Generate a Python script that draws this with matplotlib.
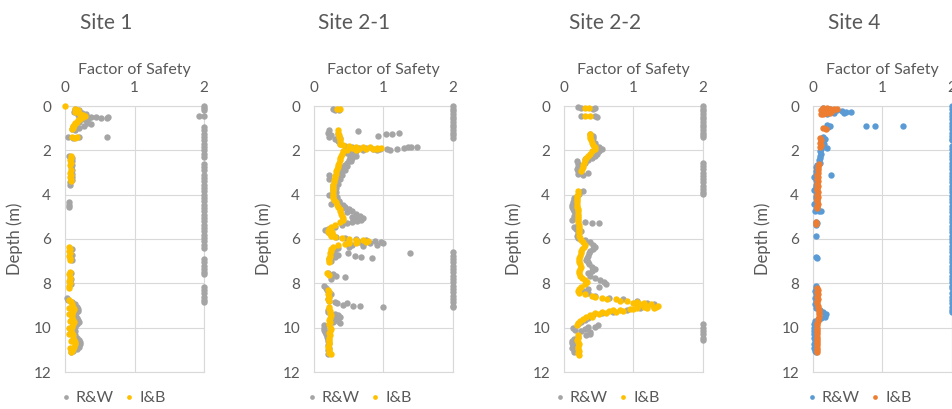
import matplotlib
matplotlib.use('Agg')
import matplotlib.pyplot as plt
from matplotlib.lines import Line2D

plt.rcParams['font.family'] = ['Lato', 'DejaVu Sans']

# ---------------- data ----------------
sites = ['Site 1', 'Site 2-1', 'Site 2-2', 'Site 4']
series_names = ['R&W', 'I&B']
x_ticks = [0, 1, 2]
y_ticks = [0, 2, 4, 6, 8, 10, 12]
x_label = 'Factor of Safety'
y_label = 'Depth (m)'
FOS_CAP = 2.0   # plotted value for capped factor of safety

# (depth m, factor of safety)
site1_rw = [(0.15,0.15),(0.2,0.2),(0.25,0.13),(0.3,0.25),(0.35,0.3),(0.4,0.18),(0.45,0.3),(0.48,0.38),
            (0.5,0.45),(0.52,0.52),(0.55,0.6),(0.5,0.62),(0.6,0.25),(0.6,0.33),(0.65,0.3),(0.7,0.2),
            (0.75,0.32),(0.8,0.38),(0.85,0.15),(0.9,0.28),(0.95,0.12),(1.0,0.2),(1.05,0.1),(1.1,0.15),
            (1.4,0.05),(1.4,0.2),(1.45,0.12),(1.4,0.6),(0.45,1.93),
            (2.25,0.06),(2.35,0.1),(2.5,0.1),(2.65,0.1),(2.75,0.08),(2.9,0.1),(3.05,0.1),(3.2,0.1),
            (3.35,0.1),(3.45,0.07),(3.55,0.07),(4.35,0.06),(4.45,0.06),(4.55,0.06),
            (6.45,0.1),(6.7,0.1),(6.95,0.1),(7.55,0.09),(7.8,0.09),(8.05,0.09),
            (8.65,0.03),(8.75,0.05),(8.85,0.1),(8.95,0.15),(9.05,0.17),(9.15,0.19),(9.25,0.18),(9.35,0.16),
            (9.45,0.15),(9.55,0.17),(9.65,0.19),(9.75,0.2),(9.85,0.17),(9.95,0.14),(10.05,0.13),(10.15,0.14),
            (10.25,0.13),(10.35,0.15),(10.45,0.17),(10.55,0.2),(10.65,0.22),(10.75,0.22),(10.85,0.2),
            (10.95,0.17),(11.05,0.12),(11.1,0.08)]
site1_rw_capped_depth = [0.0,0.1,0.2,0.45,0.95,1.1,1.25,1.4,1.55,1.7,1.85,2.0,2.15,2.3,2.6,2.75,2.9,
                         3.1,3.25,3.4,3.55,3.7,3.85,4.0,4.15,4.3,4.45,4.6,4.75,4.9,5.05,5.2,5.35,5.5,
                         5.65,5.8,5.95,6.1,6.25,6.4,6.9,7.05,7.2,7.35,7.5,7.6,8.15,8.3,8.45,8.6,8.75,8.85]
site1_ib = [(0.0,0.0),(0.15,0.15),(0.2,0.18),(0.25,0.15),(0.3,0.2),(0.35,0.22),(0.4,0.26),(0.45,0.29),
            (0.5,0.26),(0.55,0.21),(0.6,0.22),(0.65,0.18),(0.7,0.17),(0.75,0.15),(0.8,0.14),(0.85,0.13),
            (0.9,0.12),(0.95,0.12),(1.0,0.11),(1.05,0.1),(1.4,0.1),(1.45,0.14),(1.4,0.17),
            (2.25,0.08),(2.35,0.08),(2.45,0.07),(2.55,0.08),(2.65,0.07),(2.9,0.08),(3.0,0.07),(3.1,0.08),
            (3.2,0.07),(3.3,0.08),(3.4,0.08),
            (6.35,0.06),(6.45,0.07),(6.55,0.06),(6.65,0.07),(6.75,0.06),(6.85,0.07),(6.95,0.07),
            (7.5,0.07),(7.6,0.06),(7.7,0.07),(7.8,0.07),(7.9,0.06),(8.0,0.07),(8.1,0.06),(8.2,0.06),
            (8.75,0.06),(8.85,0.08),(8.95,0.1),(9.05,0.12),(9.15,0.13),(9.25,0.12),(9.35,0.1),(9.45,0.1),
            (9.55,0.1),(9.65,0.12),(9.75,0.13),(9.85,0.11),(9.95,0.1),(10.05,0.09),(10.15,0.09),(10.25,0.1),
            (10.35,0.11),(10.45,0.12),(10.55,0.13),(10.65,0.14),(10.75,0.15),(10.85,0.13),(10.95,0.11),
            (11.05,0.1),(11.12,0.08),(9.1,0.06),(9.4,0.06),(9.7,0.07),(10.0,0.06),(10.3,0.06),(10.6,0.08),
            (10.9,0.07)]

site21_rw = [(0.12,0.28),(0.2,0.3),(0.2,0.36),
             (1.1,0.22),(1.2,0.2),(1.3,0.24),(1.4,0.22),(1.5,0.3),(1.25,0.35),(1.45,0.38),(1.6,0.35),(1.7,0.38),
             (1.11,0.63),(1.35,0.92),(1.28,1.03),(1.27,1.12),(1.22,1.23),
             (1.8,0.45),(1.85,0.55),(1.88,0.65),(1.9,0.75),(1.92,0.85),(1.93,0.95),(1.95,1.05),(1.98,1.1),
             (1.93,1.2),(1.88,1.3),(1.86,1.4),(1.84,1.48),(1.86,1.35),(2.0,0.7),(1.98,0.9),(2.02,0.6),
             (2.05,0.5),(2.15,0.55),(2.25,0.6),(2.35,0.55),(2.45,0.5),(2.55,0.48),(2.65,0.45),(2.75,0.42),
             (2.85,0.42),(2.95,0.4),(3.05,0.38),(3.15,0.36),(3.25,0.33),(3.35,0.3),(3.45,0.3),(3.3,0.22),
             (2.1,0.48),(2.3,0.52),(2.5,0.53),(2.7,0.48),(2.9,0.45),(3.1,0.41),(3.3,0.37),(3.5,0.34),
             (3.7,0.32),(3.9,0.32),(4.1,0.33),(4.3,0.36),(3.1,0.22),(4.0,0.22),(4.4,0.25),
             (3.55,0.28),(3.65,0.28),(3.75,0.27),(3.85,0.28),(3.95,0.27),(4.05,0.28),(4.15,0.3),(4.25,0.32),
             (4.35,0.36),(4.45,0.42),(4.55,0.45),(4.65,0.5),(4.75,0.55),(4.85,0.6),(4.95,0.66),(5.05,0.7),
             (5.15,0.68),(5.25,0.55),(5.35,0.4),(5.45,0.3),(5.55,0.2),(5.6,0.16),(5.7,0.2),(5.8,0.25),
             (4.6,0.4),(4.8,0.48),(5.0,0.55),(5.1,0.6),(5.2,0.62),(5.3,0.47),
             (5.9,0.32),(5.95,0.45),(6.0,0.6),(6.05,0.75),(6.1,0.88),(6.15,0.97),(6.2,1.0),(6.25,0.9),
             (6.3,0.7),(6.35,0.5),(6.4,0.35),(6.5,0.3),(6.6,0.28),(6.7,0.25),(6.8,0.3),(6.9,0.22),(7.0,0.25),
             (6.12,0.65),(6.18,0.8),(6.22,0.7),(6.28,0.55),
             (6.72,0.34),(6.65,0.49),(6.77,0.59),(6.8,0.68),(6.84,0.84),(6.62,1.38),
             (7.55,0.2),(7.6,0.28),(7.65,0.32),(7.72,0.44),(7.8,0.25),
             (8.1,0.15),(8.2,0.17),(8.3,0.18),(8.4,0.22),(8.5,0.25),(8.6,0.22),(8.7,0.2),(8.8,0.22),
             (8.85,0.3),(8.9,0.33),(8.97,0.42),(8.9,0.47),(9.0,0.56),(9.0,0.66),(9.09,1.0),(9.2,0.2),
             (9.3,0.2),(9.4,0.3),(9.5,0.38),(9.45,0.35),(9.6,0.3),(9.7,0.35),(9.8,0.38),(9.75,0.28),
             (9.9,0.15),(10.0,0.14),(10.1,0.15),(10.2,0.16),(10.3,0.17),(10.4,0.18),(10.5,0.2),(10.6,0.2),
             (10.7,0.22),(10.8,0.2),(10.9,0.22),(11.0,0.2),(11.1,0.22),(11.2,0.2)]
site21_rw_capped_depth = [0.0,0.12,0.24,0.36,0.48,0.6,0.72,0.84,0.96,1.08,1.2,1.32,1.44,
                          6.6,6.75,6.9,7.05,7.2,7.35,7.5,7.65,7.8,7.95,8.1,8.25,8.4,8.55,8.7,8.85,9.0,9.05]
site21_ib = [(0.15,0.33),(0.15,0.37),
             (1.1,0.34),(1.2,0.35),(1.3,0.36),(1.4,0.36),(1.5,0.37),(1.6,0.37),(1.7,0.38),(1.75,0.42),
             (1.8,0.5),(1.83,0.6),(1.85,0.7),(1.87,0.8),(1.88,0.9),(1.9,0.97),(1.93,0.9),(1.95,0.75),
             (1.97,0.6),(2.0,0.48),(1.9,0.55),(1.92,0.65),(1.95,0.85),
             (2.05,0.42),(2.15,0.4),(2.25,0.39),(2.35,0.38),(2.45,0.37),(2.55,0.36),(2.65,0.35),(2.75,0.34),
             (2.85,0.33),(2.95,0.32),(3.05,0.31),(3.15,0.3),(3.25,0.3),(3.35,0.29),(3.45,0.29),(3.55,0.28),
             (3.65,0.27),(3.75,0.27),(3.85,0.27),(3.95,0.27),(4.05,0.27),(4.15,0.28),(4.25,0.29),(4.35,0.31),
             (4.45,0.33),(4.55,0.35),(4.65,0.37),(4.75,0.38),(4.85,0.39),(4.95,0.4),(5.05,0.42),(5.15,0.42),
             (5.25,0.38),(5.35,0.3),(5.45,0.24),(5.55,0.21),(5.65,0.2),(5.75,0.21),(5.85,0.24),(5.92,0.3),
             (5.97,0.4),(6.0,0.5),(6.03,0.6),(6.06,0.7),(6.1,0.78),(6.15,0.75),(6.18,0.6),(6.22,0.45),
             (6.27,0.35),(6.35,0.28),(6.45,0.25),(6.55,0.24),(6.65,0.23),(6.75,0.23),(6.85,0.22),(6.95,0.22),
             (6.08,0.5),(6.12,0.62),(6.2,0.5),(5.6,0.25),(5.7,0.26),(5.8,0.28),
             (7.02,0.22),(7.55,0.18),(7.62,0.22),
             (8.3,0.2),(8.4,0.21),(8.5,0.2),(8.6,0.21),(8.7,0.2),(8.8,0.21),(9.05,0.22),(9.15,0.22),
             (9.25,0.23),(9.35,0.23),(9.45,0.24),(9.55,0.23),(9.65,0.22),(9.75,0.23),(9.85,0.22),(9.95,0.23),
             (10.05,0.24),(10.15,0.23),(10.25,0.22),(10.35,0.23),(10.45,0.22),(10.55,0.21),(10.65,0.22),
             (10.75,0.21),(10.85,0.2),(10.95,0.21),(11.05,0.22),(11.15,0.21),(11.2,0.24)]

site22_rw = [(0.05,0.2),(0.1,0.25),(0.1,0.45),(0.15,0.42),(0.45,0.25),(0.45,0.45),(0.5,0.48),
             (1.25,0.38),(1.35,0.42),(1.45,0.42),(1.55,0.4),(1.65,0.44),(1.75,0.45),
             (1.85,0.5),(1.95,0.54),(2.05,0.5),(2.15,0.48),(2.25,0.45),(2.35,0.4),(2.45,0.35),(2.55,0.3),
             (2.65,0.22),(2.75,0.2),(2.85,0.18),(2.95,0.2),(3.0,0.35),(3.05,0.2),(3.1,0.28),(2.5,0.18),
             (2.6,0.2),(2.4,0.3),
             (3.85,0.28),(3.95,0.22),(4.05,0.18),(4.15,0.15),(4.25,0.14),(4.35,0.13),(4.45,0.12),(4.55,0.12),
             (4.65,0.13),(4.75,0.15),(4.85,0.18),(4.95,0.15),(5.05,0.14),(5.15,0.12),(5.25,0.3),(5.3,0.4),
             (5.28,0.5),(5.35,0.2),(5.45,0.15),(5.55,0.17),(5.65,0.25),(5.75,0.2),(5.85,0.18),(5.95,0.2),
             (6.05,0.3),(6.15,0.38),(6.25,0.42),(6.35,0.44),(6.45,0.42),(6.55,0.38),(6.65,0.36),(6.75,0.35),
             (6.85,0.33),(6.95,0.32),(7.05,0.34),(7.15,0.36),(7.25,0.4),(7.35,0.44),(7.45,0.4),(7.55,0.35),
             (7.65,0.38),(7.75,0.45),(7.85,0.52),(7.95,0.58),(8.05,0.6),(8.15,0.5),(8.25,0.35),(8.35,0.28),
             (8.45,0.35),(8.55,0.45),(8.65,0.65),(8.72,0.85),(8.8,1.05),(8.87,1.2),(8.95,1.3),(9.05,1.3),
             (9.12,1.1),(9.2,0.9),(9.28,0.7),(9.35,0.55),(9.45,0.42),(9.55,0.35),(9.65,0.3),(9.75,0.25),
             (9.85,0.2),
             (9.95,0.35),(9.95,0.45),(9.9,0.49),(10.05,0.3),(10.1,0.16),(10.15,0.25),(10.2,0.38),(10.3,0.37),
             (10.35,0.32),(10.0,0.13),(10.4,0.2),
             (10.5,0.14),(10.6,0.12),(10.7,0.12),(10.8,0.13),(10.9,0.12),(11.0,0.14),(11.08,0.15)]
site22_rw_capped_depth = [0.0,0.12,0.24,0.36,0.48,0.6,0.72,0.84,0.96,1.08,1.2,1.32,1.38,
                          2.55,2.7,2.85,3.0,3.15,3.3,3.45,3.6,3.75,3.9,3.95,
                          9.85,10.0,10.15,10.3,10.45,10.55]
site22_ib = [(0.1,0.3),(0.1,0.36),(0.45,0.3),(0.45,0.38),
             (1.25,0.37),(1.35,0.38),(1.45,0.38),(1.55,0.39),(1.65,0.4),(1.75,0.42),(1.85,0.44),(1.95,0.44),
             (2.05,0.4),(2.15,0.37),(2.25,0.34),(2.35,0.32),(2.45,0.3),(2.55,0.29),(2.65,0.28),(2.75,0.27),
             (2.85,0.26),(2.92,0.25),
             (3.85,0.2),(3.95,0.2),(4.05,0.19),(4.15,0.19),(4.25,0.19),(4.35,0.19),(4.45,0.19),(4.55,0.19),
             (4.65,0.2),(4.75,0.2),(4.85,0.2),(4.95,0.2),(5.05,0.2),(5.15,0.2),(5.25,0.2),(5.35,0.21),
             (5.45,0.21),(5.55,0.21),(5.65,0.21),(5.75,0.22),(5.85,0.22),(5.95,0.23),(6.05,0.24),(6.15,0.27),
             (6.25,0.3),(6.35,0.29),(6.45,0.26),(6.55,0.25),(6.65,0.24),(6.75,0.23),(6.85,0.22),(6.95,0.22),
             (7.05,0.22),(7.15,0.23),(7.25,0.24),(7.35,0.23),(7.45,0.22),(7.55,0.22),(7.65,0.23),(7.75,0.26),
             (7.85,0.3),(7.95,0.33),(8.05,0.3),(8.15,0.25),(8.25,0.21),(8.35,0.2),(8.45,0.22),(8.5,0.3),
             (8.58,0.4),(8.65,0.55),(8.72,0.75),(8.78,0.9),(8.83,1.05),(8.88,1.15),(8.93,1.25),(9.0,1.35),
             (9.05,1.32),(9.1,1.2),(9.13,1.05),(9.15,0.95),(9.22,0.8),(9.27,0.65),(9.3,0.55),(9.35,0.45),
             (9.42,0.38),(9.5,0.32),(9.6,0.27),(9.7,0.23),(9.8,0.2),(9.88,0.18),
             (8.95,1.1),(9.05,1.15),(9.1,1.3),(9.0,1.2),(9.18,1.0),(9.28,0.75),(9.27,0.85),(9.32,0.6),
             (8.6,0.45),(8.7,0.62),(8.8,0.8),(8.9,1.0),(9.05,1.05),(9.2,0.7),(9.4,0.5),(9.5,0.4),
             (10.35,0.2),(10.45,0.2),(10.55,0.19),(10.65,0.2),(10.75,0.21),(10.85,0.2),(10.95,0.2),
             (11.05,0.21),(11.15,0.2),(11.25,0.21)]

site4_rw = [(0.1,0.15),(0.15,0.25),(0.2,0.35),(0.22,0.42),(0.25,0.48),(0.28,0.54),(0.3,0.45),(0.3,0.3),
            (0.35,0.2),(0.88,0.76),(0.88,0.89),(0.88,1.3),
            (0.86,0.2),(0.9,0.24),(0.95,0.22),(1.0,0.18),
            (1.4,0.15),(1.5,0.17),(1.6,0.15),(1.7,0.16),(1.8,0.14),(1.88,0.2),(1.95,0.12),(2.05,0.1),
            (2.15,0.12),(2.25,0.1),(2.35,0.1),(2.45,0.09),(2.55,0.1),(3.1,0.26),
            (2.65,0.06),(2.75,0.05),(2.85,0.06),(2.95,0.05),(3.05,0.04),(3.15,0.05),(3.25,0.04),(3.35,0.05),
            (3.45,0.06),(3.55,0.04),(3.65,0.05),(3.75,0.04),(3.85,0.05),(3.95,0.06),(4.05,0.04),(4.15,0.05),
            (4.25,0.06),(4.35,0.05),(4.45,0.04),(4.55,0.06),(4.65,0.05),(4.72,0.08),(4.72,0.12),(4.72,0.03),
            (3.2,0.02),(3.8,0.02),(4.4,0.02),
            (5.22,0.05),(5.3,0.06),(5.37,0.05),(5.88,0.05),(6.84,0.06),(6.8,0.05),
            (8.1,0.05),(8.2,0.04),(8.35,0.03),(8.5,0.04),(8.65,0.03),(8.8,0.04),(8.95,0.03),(9.1,0.05),
            (9.2,0.1),(9.3,0.15),(9.4,0.18),(9.5,0.17),(9.55,0.12),(9.6,0.08),(9.7,0.03),(9.85,0.02),
            (10.0,0.02),(10.15,0.02),(10.3,0.02),(10.45,0.02),(10.6,0.03),(10.75,0.02),(10.9,0.02),
            (11.05,0.03),(11.1,0.04)]
site4_rw_capped_depth = [0.0,0.15,0.3,0.45,0.6,0.75,0.9,1.05,1.2,1.35,1.5,1.55,
                         1.8,1.95,2.1,2.25,2.4,2.55,2.7,2.85,3.0,3.15,3.3,3.45,3.6,3.75,
                         3.9,4.05,4.2,4.35,4.5,4.65,4.8,4.95,5.1,5.25,5.4,5.55,5.7,5.85,6.0,6.15,6.3,
                         6.45,6.6,6.75,6.9,7.05,7.2,7.35,7.5,7.65,7.8,7.95,8.1,8.2,
                         8.45,8.6,8.75,8.9,9.05,9.2,9.3]
site4_ib = [(0.08,0.15),(0.1,0.2),(0.12,0.25),(0.15,0.3),(0.18,0.12),(0.2,0.18),(0.22,0.28),(0.25,0.22),
            (0.28,0.14),(0.3,0.25),(0.33,0.18),(0.35,0.12),(0.38,0.15),(0.15,0.34),
            (0.98,0.15),(1.02,0.18),
            (1.45,0.1),(1.55,0.12),(1.65,0.1),(1.75,0.11),(1.85,0.1),
            (2.6,0.08),(2.7,0.07),(2.8,0.07),(2.9,0.07),(3.0,0.07),(3.1,0.06),(3.2,0.07),(3.3,0.06),
            (3.4,0.07),(3.5,0.06),(3.6,0.07),(3.7,0.06),(3.8,0.06),(3.9,0.07),(4.0,0.06),(4.1,0.07),
            (4.2,0.06),(4.3,0.06),(4.4,0.07),(4.5,0.06),(4.6,0.06),
            (5.25,0.05),(5.32,0.05),
            (8.2,0.06),(8.3,0.07),(8.4,0.06),(8.5,0.07),(8.6,0.06),(8.7,0.07),(8.8,0.06),(8.9,0.06),
            (9.0,0.07),(9.1,0.07),(9.2,0.08),(9.3,0.09),(9.4,0.09),(9.5,0.08),(9.6,0.07),(9.7,0.07),
            (9.8,0.06),(9.9,0.06),(10.0,0.06),(10.1,0.06),(10.2,0.06),(10.3,0.06),(10.4,0.06),(10.5,0.06),
            (10.6,0.06),(10.7,0.06),(10.8,0.06),(10.9,0.06),(11.0,0.06),(11.1,0.06)]

panels = [
    (site1_rw, site1_rw_capped_depth, site1_ib, '#A5A5A5', '#FFC000'),
    (site21_rw, site21_rw_capped_depth, site21_ib, '#A5A5A5', '#FFC000'),
    (site22_rw, site22_rw_capped_depth, site22_ib, '#A5A5A5', '#FFC000'),
    (site4_rw, site4_rw_capped_depth, site4_ib, '#5B9BD5', '#ED7D31'),
]

# ---------------- layout ----------------
W, H = 953, 409
TEXT = '#595959'
GRID = '#D9D9D9'
axes_left_px = [65, 314, 564, 813]
axes_top_px, axes_bottom_px, axes_w_px = 106, 372, 139
title_x_px = [106, 354, 605, 854]
legend_x_px = [114, 360, 608, 860]

fig = plt.figure(figsize=(W / 100, H / 100), dpi=100)

for i, (rw, rw_cap, ib, c_rw, c_ib) in enumerate(panels):
    ax = fig.add_axes([axes_left_px[i] / W, 1 - axes_bottom_px / H,
                       axes_w_px / W, (axes_bottom_px - axes_top_px) / H])
    rw_d = [p[0] for p in rw] + rw_cap
    rw_f = [p[1] for p in rw] + [FOS_CAP] * len(rw_cap)
    ib_d = [p[0] for p in ib]
    ib_f = [p[1] for p in ib]
    ax.plot(rw_f, rw_d, 'o', color=c_rw, ms=4.6, mew=0, clip_on=False, zorder=3)
    ax.plot(ib_f, ib_d, 'o', color=c_ib, ms=4.6, mew=0, clip_on=False, zorder=4)

    ax.set_xlim(0, 2)
    ax.set_ylim(12, 0)
    ax.set_xticks(x_ticks)
    ax.set_yticks(y_ticks)
    ax.xaxis.tick_top()
    ax.xaxis.set_label_position('top')
    ax.set_xlabel(x_label, fontsize=11.5, color=TEXT, labelpad=5)
    ax.set_ylabel(y_label, fontsize=12, color=TEXT)
    ax.yaxis.set_label_coords(-42 / axes_w_px, 0.5)
    ax.tick_params(axis='both', length=0, labelsize=11, labelcolor=TEXT)
    ax.tick_params(axis='x', pad=8)
    ax.tick_params(axis='y', pad=10)
    ax.grid(True, color=GRID, lw=0.8)
    ax.set_axisbelow(True)
    for s in ax.spines.values():
        s.set_color(GRID)
        s.set_linewidth(0.8)

    fig.text(title_x_px[i] / W, 1 - 23 / H, sites[i], ha='center', va='center',
             fontsize=15, color=TEXT)

    handles = [Line2D([], [], ls='none', marker='o', ms=3.4, mew=0, color=c_rw),
               Line2D([], [], ls='none', marker='o', ms=3.4, mew=0, color=c_ib)]
    fig.legend(handles, series_names, loc='center', bbox_to_anchor=(legend_x_px[i] / W, 1 - 398 / H),
               ncol=2, frameon=False, fontsize=11.5, labelcolor=TEXT, handlelength=0.4,
               handletextpad=0.4, columnspacing=0.8, borderpad=0)

fig.savefig('out.png', dpi=100, facecolor='white')
